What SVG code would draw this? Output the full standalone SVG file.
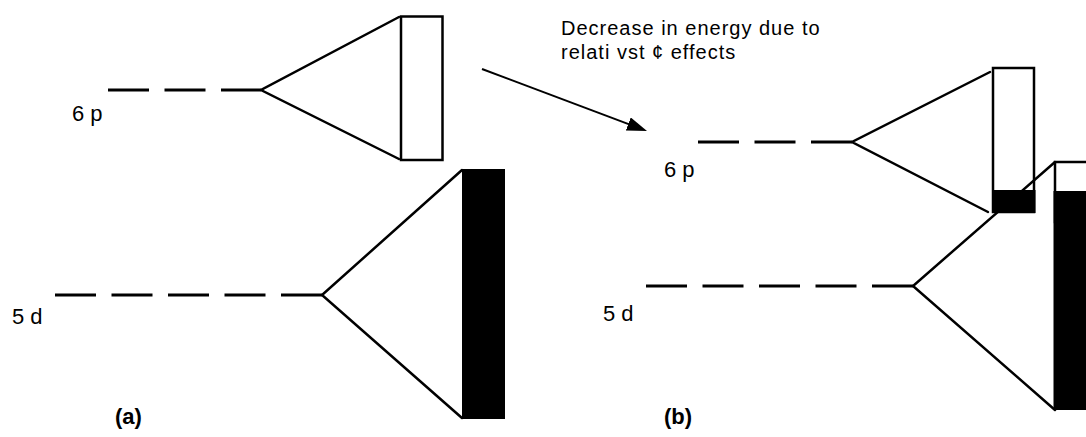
<svg xmlns="http://www.w3.org/2000/svg" width="1086" height="437" viewBox="0 0 1086 437">
  <style>
    .lvl { stroke: #000; stroke-width: 3; stroke-dasharray: 41 15.5; fill: none; }
    .edge { stroke: #000; stroke-width: 2.5; fill: none; stroke-linecap: round; }
    .box { stroke: #000; stroke-width: 2.5; fill: #fff; }
    .solid { fill: #000; stroke: none; }
    .lbl { font-family: "Liberation Sans", Arial, sans-serif; font-size: 22px; fill: #000; }
    .cap { font-family: "Liberation Sans", Arial, sans-serif; font-size: 22px; font-weight: bold; fill: #000; }
    .note { font-family: "Liberation Sans", Arial, sans-serif; font-size: 20px; letter-spacing: 1px; fill: #000; }
  </style>
  <defs>
    <marker id="ah" markerUnits="userSpaceOnUse" markerWidth="22" markerHeight="16" refX="6" refY="7" orient="auto">
      <path d="M0,0 L20,7 L0,14 z" fill="#000"/>
    </marker>
  </defs>

  <rect width="1086" height="437" fill="#fff"/>

  <!-- (a) 6p -->
  <g id="a-6p">
    <line class="lvl" x1="108" y1="90" x2="261" y2="90"/>
    <polyline class="edge" points="399,17 261,90 399,159"/>
    <rect class="box" x="401" y="16.5" width="41.5" height="143.5"/>
    <text class="lbl" x="72" y="121">6 p</text>
  </g>

  <!-- (a) 5d -->
  <g id="a-5d">
    <line class="lvl" x1="55" y1="295" x2="322" y2="295"/>
    <polyline class="edge" points="462,170 322,295 462,418"/>
    <rect class="solid" x="462" y="169" width="43" height="250"/>
    <text class="lbl" x="12" y="324">5 d</text>
  </g>

  <!-- (b) 6p -->
  <g id="b-6p">
    <line class="lvl" x1="698" y1="142" x2="852" y2="142"/>
    <polyline class="edge" points="990,72 852,142 988,212"/>
    <rect class="box" x="993" y="68" width="41" height="144"/>
    <rect class="solid" x="992" y="190" width="43.5" height="23"/>
    <text class="lbl" x="664" y="177">6 p</text>
  </g>

  <!-- (b) 5d -->
  <g id="b-5d">
    <line class="lvl" x1="646" y1="286" x2="913" y2="286"/>
    <polyline class="edge" points="1055,162 913,286 1055,410"/>
    <rect class="box" x="1055" y="162" width="45" height="60"/>
    <rect class="solid" x="1053.5" y="191" width="40" height="219"/>
    <text class="lbl" x="603" y="321">5 d</text>
  </g>

  <!-- captions -->
  <g id="captions">
    <text class="cap" x="115" y="424">(a)</text>
    <text class="cap" x="664" y="424">(b)</text>
  </g>

  <!-- connectors -->
  <g id="connectors">
    <line x1="482" y1="69" x2="633.9" y2="126.1" stroke="#000" stroke-width="2" marker-end="url(#ah)"/>
    <text class="note" x="561" y="35">Decrease in energy due to</text>
    <text class="note" x="561" y="59">relati vst ¢ effects</text>
  </g>
</svg>
